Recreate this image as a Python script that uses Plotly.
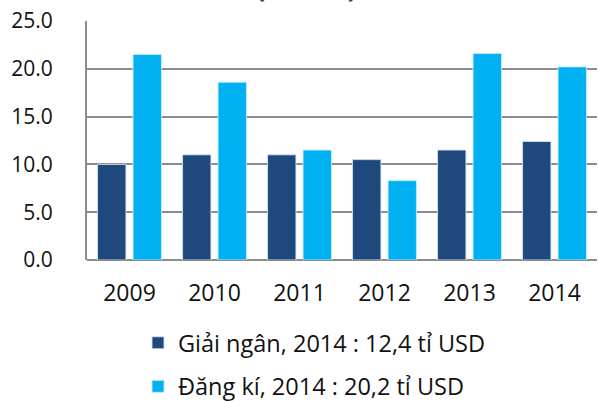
import plotly.graph_objects as go

years = ["2009", "2010", "2011", "2012", "2013", "2014"]
giai_ngan = [10.0, 11.0, 11.0, 10.5, 11.5, 12.4]
dang_ki = [21.5, 18.6, 11.5, 8.3, 21.6, 20.2]
y_ticks = [0, 5, 10, 15, 20, 25]
y_tick_text = ["0.0", "5.0", "10.0", "15.0", "20.0", "25.0"]

FONT = "Open Sans"

fig = go.Figure()
fig.add_trace(go.Bar(
    x=years, y=giai_ngan, name="Giải ngân, 2014 : 12,4 tỉ USD",
    marker=dict(color="#1F497D", line=dict(color="rgba(210,225,240,0.9)", width=1)),
    legendgroup="a",
))
fig.add_trace(go.Bar(
    x=years, y=dang_ki, name="Đăng kí, 2014 : 20,2 tỉ USD",
    marker=dict(color="#00B0F0", line=dict(color="rgba(190,235,255,0.9)", width=1)),
    legendgroup="b",
))

fig.update_layout(
    width=598, height=401,
    margin=dict(l=87, r=1, t=21, b=141, autoexpand=False),
    paper_bgcolor="white", plot_bgcolor="white",
    barmode="group", bargap=0.165, bargroupgap=0.2,
    font=dict(family=FONT, color="#111111"),
    showlegend=True,
    legend=dict(
        orientation="v", xref="container", yref="container",
        x=138 / 598, xanchor="left", y=1 - 321 / 401, yanchor="top",
        font=dict(size=23.5, family=FONT, color="#111111"),
        traceorder="grouped", tracegroupgap=10,
        bgcolor="rgba(0,0,0,0)", itemwidth=30,
    ),
    xaxis=dict(
        showgrid=False, showline=False, ticks="", automargin=False,
        tickfont=dict(size=23, family=FONT, color="#111111"),
        ticklabelstandoff=17,
    ),
    yaxis=dict(
        range=[0, 25], tickvals=y_ticks, ticktext=y_tick_text, automargin=False,
        showgrid=True, gridcolor="#8C8C8C", gridwidth=2,
        showline=True, linecolor="#8C8C8C", linewidth=2,
        zeroline=True, zerolinecolor="#8C8C8C", zerolinewidth=2,
        ticks="outside", ticklen=28, tickcolor="rgba(0,0,0,0)",
        tickfont=dict(size=21, family=FONT, color="#111111"),
    ),
)

fig.add_annotation(
    text="<b>(tỉ USD)</b>", xref="paper", yref="paper", x=0.43, y=1,
    xanchor="center", yanchor="bottom", yshift=14, showarrow=False,
    font=dict(size=27, family=FONT, color="#1F3F7F"),
)

fig.write_html(
    "out.html",
    config={"displayModeBar": False},
    post_script="document.body.style.margin='0';",
)
